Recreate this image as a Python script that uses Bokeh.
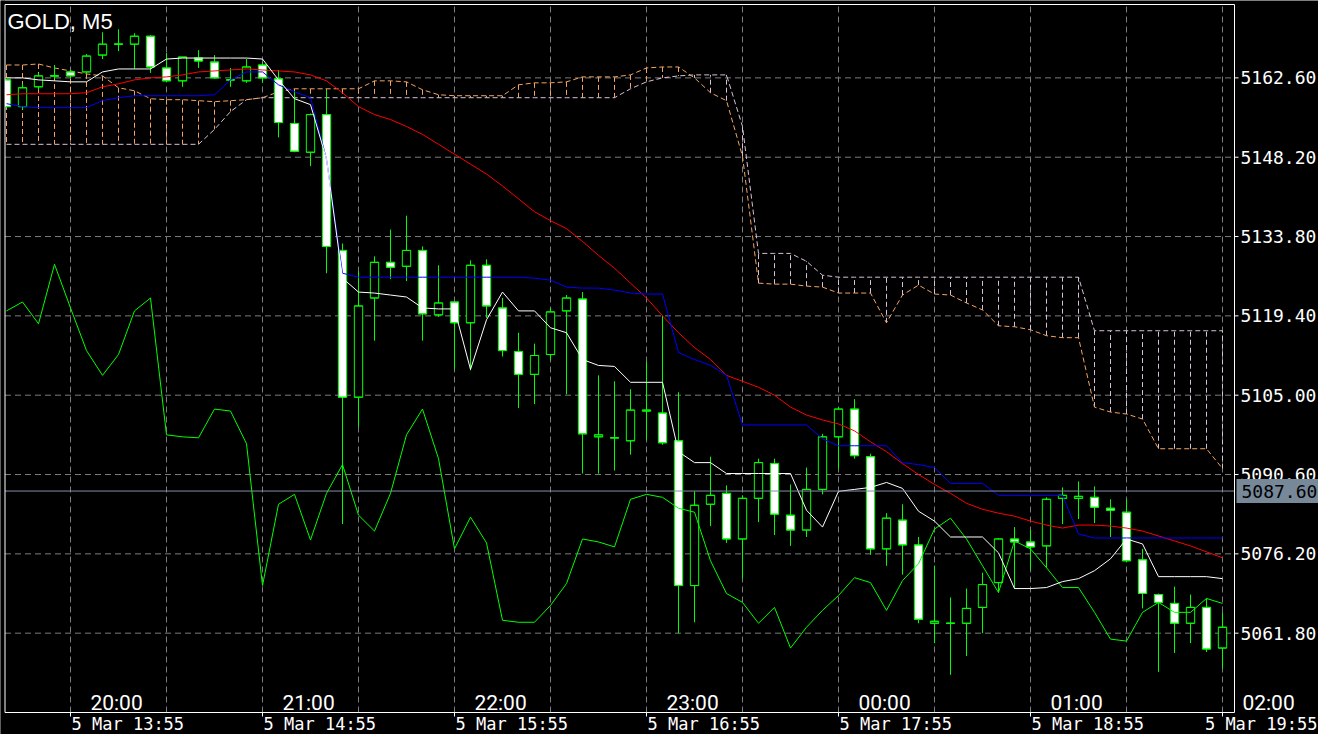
from bokeh.plotting import figure
from bokeh.models import Range1d
from bokeh.embed import file_html
from bokeh.resources import INLINE
from bokeh.core.properties import value

# ---------------- data (GOLD, M5, bars 5 Mar 13:35 .. 19:55) ----------------
symbol_title = "GOLD, M5"

opens = [5162.24, 5157.38, 5160.98, 5162.96, 5163.68, 5163.68, 5166.74, 5168.72, 5168.72, 5170.16,
         5164.40, 5162.06, 5166.20, 5165.48, 5162.24, 5162.06, 5164.94, 5162.42, 5154.32, 5149.10,
         5155.94, 5131.28, 5104.64, 5122.64, 5129.12, 5128.40, 5131.28, 5119.58, 5121.92, 5118.14,
         5128.58, 5120.84, 5112.92, 5108.78, 5112.38, 5120.30, 5122.46, 5097.44, 5097.26, 5096.72,
         5102.12, 5101.76, 5096.72, 5070.44, 5085.20, 5087.18, 5078.90, 5086.28, 5092.58, 5083.22,
         5080.52, 5087.90, 5097.44, 5102.48, 5093.84, 5077.10, 5082.32, 5077.82, 5063.60, 5063.60,
         5063.60, 5066.48, 5070.98, 5078.90, 5078.36, 5077.64, 5086.28, 5086.28, 5086.46, 5084.48,
         5083.76, 5075.12, 5068.82, 5067.20, 5063.60, 5066.48, 5059.10]

highs = [5162.42, 5161.52, 5163.50, 5164.94, 5164.04, 5166.92, 5170.88, 5171.42, 5170.70, 5170.34,
         5167.10, 5166.38, 5167.64, 5166.74, 5164.40, 5166.02, 5165.48, 5164.04, 5160.26, 5156.12,
         5160.44, 5132.54, 5127.50, 5130.20, 5135.06, 5137.58, 5132.00, 5128.58, 5122.10, 5129.48,
         5129.66, 5122.64, 5116.34, 5114.36, 5120.84, 5123.18, 5123.72, 5108.60, 5107.52, 5106.08,
         5111.12, 5119.40, 5105.54, 5087.54, 5093.84, 5088.62, 5086.82, 5093.48, 5093.48, 5088.80,
         5091.86, 5097.98, 5102.84, 5104.28, 5094.38, 5083.58, 5085.20, 5079.26, 5074.04, 5068.28,
         5069.90, 5072.78, 5079.08, 5081.06, 5080.52, 5086.46, 5088.26, 5089.34, 5088.44, 5086.10,
         5086.10, 5077.10, 5069.00, 5070.26, 5068.82, 5068.10, 5065.58]

lows = [5157.20, 5156.84, 5160.44, 5162.42, 5162.60, 5163.32, 5166.02, 5167.46, 5164.22, 5163.50,
        5161.88, 5160.98, 5164.40, 5162.42, 5160.98, 5161.70, 5161.70, 5151.80, 5149.10, 5146.58,
        5127.14, 5081.60, 5099.24, 5114.90, 5126.06, 5125.70, 5114.90, 5119.22, 5109.68, 5109.50,
        5119.04, 5112.02, 5102.66, 5103.38, 5111.30, 5105.18, 5090.78, 5090.78, 5091.32, 5094.20,
        5096.90, 5096.00, 5061.80, 5063.78, 5081.24, 5078.18, 5071.70, 5081.96, 5079.62, 5077.64,
        5079.26, 5087.00, 5091.68, 5093.48, 5076.02, 5074.04, 5072.42, 5063.60, 5060.00, 5054.24,
        5057.66, 5061.80, 5069.18, 5069.90, 5073.32, 5073.68, 5081.60, 5082.50, 5081.78, 5079.26,
        5074.76, 5066.30, 5054.78, 5058.20, 5060.00, 5058.38, 5055.32]

closes = [5157.38, 5160.80, 5162.96, 5162.96, 5162.96, 5166.56, 5168.72, 5168.72, 5170.16, 5164.58,
          5162.06, 5166.38, 5165.66, 5162.60, 5162.24, 5164.58, 5162.60, 5154.50, 5149.28, 5155.94,
          5132.00, 5104.64, 5121.20, 5129.12, 5128.22, 5131.28, 5119.76, 5121.74, 5118.14, 5128.58,
          5121.20, 5113.10, 5108.78, 5112.20, 5120.12, 5122.64, 5097.98, 5097.80, 5097.26, 5102.30,
          5102.30, 5096.36, 5070.44, 5085.02, 5086.82, 5078.90, 5086.28, 5092.76, 5083.40, 5080.52,
          5087.90, 5097.44, 5102.48, 5094.02, 5077.10, 5082.68, 5077.82, 5064.32, 5063.96, 5063.60,
          5066.30, 5070.62, 5078.90, 5078.36, 5077.46, 5086.10, 5086.82, 5086.64, 5084.66, 5084.12,
          5074.94, 5069.00, 5067.38, 5063.60, 5066.48, 5058.92, 5062.88]

# Ichimoku: conversion line (white), base line (blue), lagging span (green), cloud spans
tenkan = [5162.60, 5162.60, 5162.24, 5162.06, 5161.88, 5161.88, 5163.68, 5164.22, 5164.22, 5164.22,
          5166.02, 5166.20, 5166.20, 5166.20, 5166.20, 5166.20, 5166.02, 5162.24, 5158.82, 5157.74,
          5147.84, 5126.24, 5123.72, 5123.54, 5123.18, 5122.82, 5120.84, 5120.66, 5120.66, 5109.68,
          5118.68, 5123.72, 5120.30, 5120.30, 5117.24, 5116.34, 5111.48, 5110.40, 5110.22, 5107.34,
          5107.34, 5107.34, 5094.74, 5092.76, 5092.76, 5090.78, 5090.78, 5090.78, 5090.78, 5090.78,
          5084.12, 5081.06, 5087.54, 5087.90, 5088.26, 5089.16, 5088.08, 5083.94, 5082.14, 5079.26,
          5079.26, 5079.26, 5076.38, 5069.90, 5069.90, 5070.08, 5071.16, 5071.70, 5073.14, 5075.30,
          5078.90, 5078.00, 5072.06, 5072.06, 5072.06, 5072.06, 5071.70]

kijun = [5157.92, 5157.38, 5157.20, 5157.20, 5157.20, 5157.20, 5158.46, 5159.00, 5159.36, 5159.36,
         5159.36, 5159.36, 5159.36, 5159.54, 5162.24, 5163.68, 5163.68, 5161.34, 5160.08, 5159.00,
         5147.84, 5127.14, 5126.42, 5126.42, 5126.42, 5126.42, 5126.42, 5126.42, 5126.42, 5126.42,
         5126.42, 5126.42, 5126.42, 5126.24, 5125.88, 5124.62, 5124.44, 5124.44, 5124.08, 5123.54,
         5123.36, 5123.36, 5112.74, 5111.48, 5110.40, 5108.60, 5099.60, 5099.60, 5099.60, 5099.60,
         5099.60, 5097.08, 5095.82, 5095.82, 5095.82, 5095.82, 5092.76, 5092.40, 5091.86, 5088.98,
         5088.98, 5088.98, 5086.82, 5086.82, 5086.82, 5086.82, 5086.82, 5079.80, 5079.08, 5079.08,
         5079.08, 5079.08, 5079.08, 5079.08, 5079.08, 5079.08, 5079.08]

chikou = [5120.30, 5121.92, 5117.96, 5128.76, 5120.84, 5113.10, 5108.60, 5112.38, 5120.30, 5122.64,
          5097.80, 5097.44, 5097.26, 5102.48, 5102.12, 5096.18, 5070.44, 5085.20, 5087.00, 5078.72,
          5087.18, 5092.40, 5083.22, 5080.34, 5087.18, 5097.80, 5102.48, 5093.48, 5077.10, 5082.86,
          5078.18, 5064.14, 5063.78, 5063.78, 5066.84, 5070.80, 5078.90, 5078.36, 5077.46, 5086.10,
          5087.00, 5086.46, 5084.48, 5083.76, 5074.94, 5069.00, 5067.38, 5063.60, 5066.48, 5059.10,
          5062.88, 5065.94, 5068.64, 5071.88, 5070.98, 5065.94, 5071.34, 5074.40, 5080.70, 5082.68,
          5078.90, 5074.04, 5069.18, 5078.54, 5077.10, 5073.68, 5070.08, 5070.08, 5065.58, 5060.72,
          5060.36, 5065.58, 5067.38, 5065.58, 5065.58, 5068.10, 5067.20]

span_a = [5164.94, 5164.94, 5165.12, 5164.40, 5163.86, 5163.32, 5162.96, 5160.80, 5160.26, 5158.82,
          5158.64, 5158.64, 5158.46, 5158.28, 5158.46, 5158.64, 5159.00, 5160.08, 5160.62, 5160.62,
          5160.62, 5160.62, 5160.62, 5162.06, 5162.06, 5161.88, 5160.44, 5159.54, 5159.36, 5159.36,
          5159.36, 5159.36, 5161.34, 5161.70, 5161.70, 5161.88, 5162.78, 5162.78, 5162.78, 5163.14,
          5164.40, 5164.58, 5164.58, 5162.60, 5159.90, 5158.46, 5148.38, 5125.34, 5125.16, 5125.16,
          5124.80, 5124.62, 5123.54, 5123.54, 5123.54, 5118.14, 5123.18, 5124.98, 5123.36, 5123.18,
          5121.74, 5120.48, 5117.60, 5117.42, 5116.88, 5115.80, 5115.44, 5115.44, 5102.84, 5101.94,
          5101.58, 5100.68, 5095.28, 5095.28, 5095.28, 5095.28, 5091.68]

span_b = [5150.54, 5150.54, 5150.54, 5150.54, 5150.54, 5150.54, 5150.54, 5150.54, 5150.54, 5150.54,
          5150.54, 5150.54, 5150.54, 5153.24, 5156.48, 5158.64, 5159.00, 5159.00, 5159.00, 5159.00,
          5159.00, 5159.00, 5159.00, 5159.00, 5159.00, 5159.00, 5159.00, 5159.00, 5159.00, 5159.00,
          5159.00, 5159.00, 5159.00, 5159.00, 5159.00, 5159.00, 5159.00, 5159.00, 5159.00, 5160.62,
          5161.88, 5162.60, 5162.96, 5163.14, 5163.14, 5163.14, 5153.78, 5130.74, 5130.74, 5130.74,
          5129.30, 5126.78, 5126.42, 5126.42, 5126.42, 5126.42, 5126.42, 5126.42, 5126.42, 5126.42,
          5126.42, 5126.42, 5126.42, 5126.42, 5126.42, 5126.42, 5126.42, 5126.42, 5116.70, 5116.70,
          5116.70, 5116.70, 5116.70, 5116.70, 5116.70, 5116.70, 5116.70]

# red moving average
ma_red = [5159.54, 5159.72, 5159.72, 5159.72, 5159.72, 5159.90, 5160.98, 5161.52, 5162.24, 5162.60,
          5162.78, 5163.14, 5163.68, 5163.86, 5164.04, 5164.22, 5164.04, 5163.86, 5163.68, 5163.14,
          5162.06, 5159.90, 5157.38, 5155.94, 5155.04, 5153.78, 5152.34, 5150.54, 5148.74, 5146.94,
          5145.14, 5142.98, 5140.64, 5138.30, 5136.68, 5135.24, 5132.90, 5130.38, 5128.04, 5125.34,
          5122.64, 5119.40, 5116.34, 5113.64, 5111.48, 5108.60, 5107.52, 5106.44, 5105.00, 5102.84,
          5101.40, 5100.50, 5099.78, 5098.52, 5096.54, 5094.74, 5092.58, 5090.60, 5088.80, 5087.18,
          5085.38, 5084.30, 5083.58, 5083.04, 5082.14, 5081.42, 5080.88, 5081.42, 5081.42, 5081.24,
          5080.88, 5080.34, 5079.44, 5078.54, 5077.64, 5076.56, 5075.48]

price_ticks = [5061.80, 5076.20, 5090.60, 5105.00, 5119.40, 5133.80, 5148.20, 5162.60]
current_price = 5087.60
chart_price_top, chart_price_bottom = 5175.92, 5047.40

date_tick_bars = [4, 16, 28, 40, 52, 64, 76]
date_labels = ["5 Mar 13:55", "5 Mar 14:55", "5 Mar 15:55", "5 Mar 16:55",
               "5 Mar 17:55", "5 Mar 18:55", "5 Mar 19:55"]
hour_labels = ["20:00", "21:00", "22:00", "23:00", "00:00", "01:00", "02:00"]

# ---------------- layout / styles ----------------
GREEN = "#00ff00"
SPAN_A_COLOR = "#f4a460"
SPAN_B_COLOR = "#d8bfd8"
GRID_COLOR = "#7c7c7c"
AXIS_FONT = "DejaVu Sans Mono"

W, H = 1318, 734                 # canvas (whole canvas is the plotting frame)
PX_PER_BAR = 16.0
BAR0_PX = 6.0                    # pixel x of bar 0
CH_L, CH_R, CH_T, CH_B = 4.5, 1234.0, 4.0, 712.0   # chart border in pixels

n = len(opens)
xs = list(range(n))

ppx = PX_PER_BAR
X0 = -BAR0_PX / ppx
X1 = X0 + W / ppx
ppu = (CH_B - CH_T) / (chart_price_top - chart_price_bottom)
Y1 = chart_price_top + CH_T / ppu
Y0 = Y1 - H / ppu


def xd(px):
    return X0 + px / ppx


def yd(py):
    return Y1 - py / ppu


p = figure(width=W, height=H, x_range=Range1d(X0, X1), y_range=Range1d(Y0, Y1),
           output_backend="svg", toolbar_location=None,
           x_axis_location=None, y_axis_location=None, min_border=0,
           background_fill_color="black", border_fill_color="black",
           outline_line_color=None)
p.grid.visible = False

# ---------------- grid ----------------
grid_bars = list(range(4, n, 6))
p.segment(x0=grid_bars, y0=[yd(CH_B)] * len(grid_bars), x1=grid_bars, y1=[yd(CH_T)] * len(grid_bars),
          line_color=GRID_COLOR, line_width=1, line_dash="6 4")
p.segment(x0=[xd(CH_L)] * len(price_ticks), y0=price_ticks, x1=[xd(CH_R)] * len(price_ticks),
          y1=price_ticks, line_color=GRID_COLOR, line_width=1, line_dash="6 4")

# ---------------- Ichimoku cloud (hatched) ----------------
hatch_colors = [SPAN_A_COLOR if a >= b else SPAN_B_COLOR for a, b in zip(span_a, span_b)]
p.segment(x0=xs, y0=span_a, x1=xs, y1=span_b, line_color=hatch_colors,
          line_width=1, line_dash="5 3")
p.line(xs, span_b, line_color=SPAN_B_COLOR, line_width=1, line_dash="5 3")
p.line(xs, span_a, line_color=SPAN_A_COLOR, line_width=1, line_dash="5 3")

# ---------------- candles ----------------
tops = [max(o, c) for o, c in zip(opens, closes)]
bottoms = [min(o, c) for o, c in zip(opens, closes)]
body_fill = ["black" if c >= o else "white" for o, c in zip(opens, closes)]
BODY_W = 0.52
p.segment(x0=xs, y0=lows, x1=xs, y1=highs, line_color=GREEN, line_width=1)
p.vbar(x=xs, width=BODY_W, top=tops, bottom=bottoms, fill_color=body_fill,
       line_color=GREEN, line_width=1)
left_edge = [x - BODY_W / 2 for x in xs]
right_edge = [x + BODY_W / 2 for x in xs]
p.segment(x0=left_edge, y0=opens, x1=right_edge, y1=opens, line_color=GREEN, line_width=1)
p.segment(x0=left_edge, y0=closes, x1=right_edge, y1=closes, line_color=GREEN, line_width=1)

# ---------------- indicator lines ----------------
p.line(xs, chikou, line_color=GREEN, line_width=1)
p.line(xs, ma_red, line_color="#ff0000", line_width=1)
p.line(xs, kijun, line_color="#0000ff", line_width=1)
p.line(xs, tenkan, line_color="#ffffff", line_width=1)

# current price line
p.segment(x0=[xd(CH_L)], y0=[current_price], x1=[xd(CH_R)], y1=[current_price],
          line_color="#8391a8", line_width=1)

# mask anything that spills left of the chart border
p.quad(left=[X0], right=[xd(CH_L)], top=[Y1], bottom=[Y0], fill_color="black", line_color=None)

# ---------------- chart border, ticks ----------------
p.quad(left=[xd(CH_L)], right=[xd(CH_R)], top=[yd(CH_T)], bottom=[yd(CH_B)],
       fill_color=None, line_color="white", line_width=1)
p.segment(x0=[xd(CH_R)] * len(price_ticks), y0=price_ticks,
          x1=[xd(CH_R + 4)] * len(price_ticks), y1=price_ticks, line_color="white", line_width=1)
p.segment(x0=date_tick_bars, y0=[yd(CH_B)] * len(date_tick_bars),
          x1=date_tick_bars, y1=[yd(CH_B + 4)] * len(date_tick_bars), line_color="white", line_width=1)

# price scale labels
p.text(x=[xd(CH_R + 6)] * len(price_ticks), y=price_ticks,
       text=[f"{v:.2f}" for v in price_ticks],
       text_color="white", text_font=value(AXIS_FONT), text_font_size=value("18px"),
       text_align=value("left"), text_baseline=value("middle"))

# current price tag
p.quad(left=[xd(CH_R + 2)], right=[X1], top=[current_price + 12 / ppu],
       bottom=[current_price - 12 / ppu], fill_color="#778899", line_color=None)
p.text(x=[xd(CH_R + 7)], y=[current_price], text=[f"{current_price:.2f}"],
       text_color="black", text_font=value(AXIS_FONT), text_font_size=value("18px"),
       text_align=value("left"), text_baseline=value("middle"))

# date labels under the chart (left aligned at their ticks; last one kept inside)
date_y = yd(CH_B + 11.5)
p.text(x=[t + 1 / ppx for t in date_tick_bars[:-1]], y=[date_y] * (len(date_tick_bars) - 1),
       text=date_labels[:-1], text_color="white", text_font=value(AXIS_FONT),
       text_font_size=value("17px"), text_align=value("left"), text_baseline=value("middle"))
p.text(x=[xd(W - 1)], y=[date_y], text=date_labels[-1:], text_color="white",
       text_font=value(AXIS_FONT), text_font_size=value("17px"),
       text_align=value("right"), text_baseline=value("middle"))

# hour labels along the bottom of the chart
p.text(x=[t + 2.88 for t in date_tick_bars], y=[yd(CH_B - 9.7)] * len(date_tick_bars),
       text=hour_labels, text_color="white", text_font=value("Roboto"),
       text_font_size=value("21px"), text_align=value("center"), text_baseline=value("middle"))

# title
p.text(x=[xd(7)], y=[yd(8.3)], text=[symbol_title], text_color="white",
       text_font=value("Liberation Sans"), text_font_size=value("22px"),
       text_align=value("left"), text_baseline=value("top"))

open("out.html", "w").write(file_html(p, INLINE))
